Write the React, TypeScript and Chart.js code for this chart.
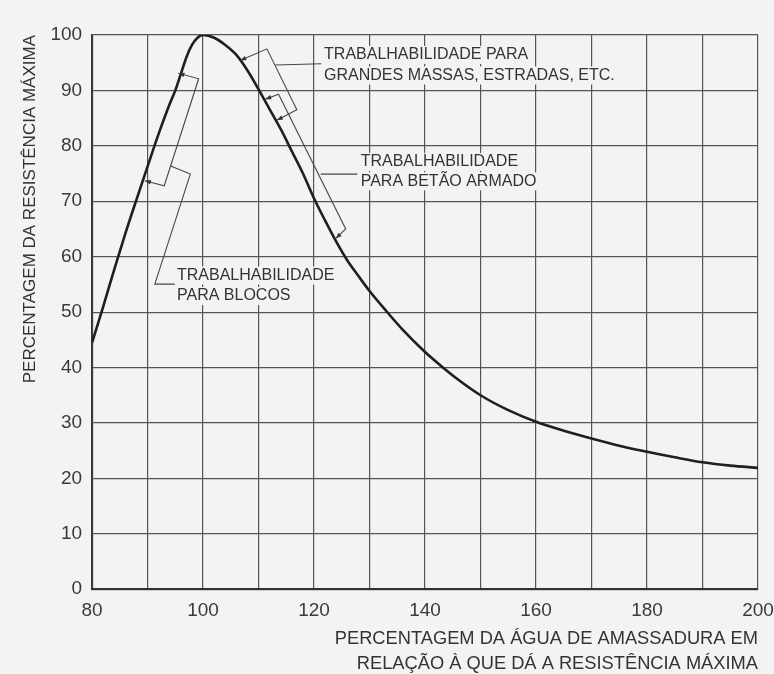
import { useEffect, useRef } from 'react';
import { Chart, registerables } from 'chart.js';

Chart.register(...registerables);

// Percentage of mixing water relative to that giving maximum strength
const waterPct = [
  80, 82, 84, 86, 88, 90, 92, 94, 95, 96, 97, 98, 99, 100,
  102, 104, 106, 108, 110, 112, 114, 116, 118, 120, 122, 124, 126, 128, 130,
  133, 136, 140, 143, 146, 150, 155, 160, 165, 170, 175, 180, 185, 190, 195, 200,
];
// Percentage of maximum strength
const strengthPct = [
  44.5, 51, 57.7, 64.2, 70.3, 76.3, 82.2, 87.6, 90, 93, 96, 98.2, 99.5, 100,
  99.5, 98.2, 96.4, 93.6, 90.2, 86.6, 83, 79, 75, 70.5, 66.5, 62.7, 59.3, 56.5, 53.8,
  50.2, 46.8, 42.8, 40.2, 37.8, 35, 32.3, 30.2, 28.6, 27.2, 25.9, 24.8, 23.8, 22.9, 22.3, 21.9,
];

const xTickLabels = ['80', '100', '120', '140', '160', '180', '200'];
const yTitle = 'PERCENTAGEM DA RESISTÊNCIA MÁXIMA';
const xTitle = ['PERCENTAGEM DA ÁGUA DE AMASSADURA EM', 'RELAÇÃO À QUE DÁ A RESISTÊNCIA MÁXIMA'];

// Workability brackets (data coordinates): curve point, corner, corner, curve point
const bracketBlocos = [[95.55, 93.1], [99.2, 92.1], [93.0, 72.8], [89.5, 73.7]];
const leaderBlocos = [[94.05, 76.4], [97.7, 74.9], [91.3, 55.05], [94.9, 55.05]];
const textBlocos = ['TRABALHABILIDADE', 'PARA BLOCOS'];
const textBlocosAt = [[95.3, 56.6], [95.3, 52.9]];

const bracketMassas = [[106.7, 95.4], [111.5, 97.5], [116.9, 86.5], [113.3, 84.6]];
const leaderMassas = [[113.0, 94.6], [121.3, 94.8]];
const textMassas = ['TRABALHABILIDADE PARA', 'GRANDES MASSAS, ESTRADAS, ETC.'];
const textMassasAt = [[121.8, 96.4], [121.8, 92.7]];

const bracketArmado = [[111.2, 88.4], [113.6, 89.3], [125.7, 65.0], [123.9, 63.3]];
const leaderArmado = [[121.2, 74.9], [127.8, 74.9]];
const textArmado = ['TRABALHABILIDADE', 'PARA BETÃO ARMADO'];
const textArmadoAt = [[128.4, 77.1], [128.4, 73.6]];

const BG = '#f1f4f1';
const INK = '#333333';
const FONT = '"Liberation Sans", Arial, sans-serif';

const annotationPlugin = {
  id: 'workabilityNotes',
  beforeDraw(chart: any) {
    const { ctx, width, height } = chart;
    ctx.save();
    ctx.fillStyle = BG;
    ctx.fillRect(0, 0, width, height);
    ctx.restore();
  },
  afterDatasetsDraw(chart: any) {
    const { ctx } = chart;
    const xs = chart.scales.x;
    const ys = chart.scales.y;
    const P = (p: number[]) => [xs.getPixelForValue(p[0]), ys.getPixelForValue(p[1])];
    const poly = (pts: number[][]) => {
      ctx.beginPath();
      pts.forEach((p, i) => {
        const [px, py] = P(p);
        if (i) ctx.lineTo(px, py); else ctx.moveTo(px, py);
      });
      ctx.stroke();
    };
    const arrow = (from: number[], to: number[]) => {
      const [x0, y0] = P(from);
      const [x1, y1] = P(to);
      const a = Math.atan2(y1 - y0, x1 - x0);
      const L = 6, W = 2.2;
      ctx.beginPath();
      ctx.moveTo(x1, y1);
      ctx.lineTo(x1 - L * Math.cos(a) + W * Math.sin(a), y1 - L * Math.sin(a) - W * Math.cos(a));
      ctx.lineTo(x1 - L * Math.cos(a) - W * Math.sin(a), y1 - L * Math.sin(a) + W * Math.cos(a));
      ctx.closePath();
      ctx.fill();
    };
    const texts = (lines: string[], at: number[][]) => {
      ctx.font = '16px ' + FONT;
      ctx.textBaseline = 'middle';
      ctx.textAlign = 'left';
      lines.forEach((t, i) => {
        const [px, py] = P(at[i]);
        const w = ctx.measureText(t).width;
        ctx.fillStyle = BG;
        ctx.fillRect(px - 2, py - 9, w + 4, 18);
        ctx.fillStyle = INK;
        ctx.fillText(t, px, py);
      });
    };
    ctx.save();
    ctx.strokeStyle = '#474747';
    ctx.fillStyle = '#333';
    ctx.lineWidth = 1.1;
    for (const b of [bracketBlocos, bracketMassas, bracketArmado]) {
      poly(b);
      arrow(b[1], b[0]);
      arrow(b[2], b[3]);
    }
    for (const l of [leaderBlocos, leaderMassas, leaderArmado]) {
      poly(l);
    }
    texts(textBlocos, textBlocosAt);
    texts(textMassas, textMassasAt);
    texts(textArmado, textArmadoAt);
    ctx.restore();
  },
};

export default function App() {
  const ref = useRef<HTMLCanvasElement | null>(null);
  useEffect(() => {
    if (!ref.current) return;
    const chart = new Chart(ref.current, {
      type: 'line',
      data: {
        datasets: [
          {
            data: waterPct.map((x, i) => ({ x, y: strengthPct[i] })),
            borderColor: '#1f1f1f',
            borderWidth: 2.6,
            pointRadius: 0,
            fill: false,
            cubicInterpolationMode: 'monotone',
          },
        ],
      },
      options: {
        responsive: false,
        animation: false,
        layout: { padding: { top: 35, right: 16, left: 12, bottom: 0 } },
        plugins: { legend: { display: false }, tooltip: { enabled: false } },
        scales: {
          x: {
            type: 'linear',
            min: 80,
            max: 200,
            afterFit: (s: any) => {
              s.paddingRight = 0;
              s.paddingLeft = 0;
            },
            ticks: {
              stepSize: 10,
              autoSkip: false,
              maxRotation: 0,
              padding: 10,
              color: '#3a3a3a',
              font: { family: FONT, size: 19 },
              callback: (v: any) => (xTickLabels.includes(String(v)) ? String(v) : ''),
            },
            grid: { color: '#555', lineWidth: 1.2, drawTicks: false },
            border: { color: '#333', width: 2 },
            title: {
              display: true,
              text: xTitle,
              align: 'end',
              color: INK,
              font: { family: FONT, size: 18.3, lineHeight: 1.366 },
              padding: { top: -6, bottom: -2 },
            },
          },
          y: {
            min: 0,
            max: 100,
            ticks: {
              stepSize: 10,
              padding: 10,
              color: '#3a3a3a',
              font: { family: FONT, size: 19 },
            },
            grid: { color: '#555', lineWidth: 1.2, drawTicks: false },
            border: { color: '#333', width: 1.6 },
            title: {
              display: true,
              text: yTitle,
              align: 'end',
              color: INK,
              font: { family: FONT, size: 17 },
              padding: { top: 8, bottom: 0 },
            },
          },
        },
      },
      plugins: [annotationPlugin],
    } as any);
    return () => chart.destroy();
  }, []);
  return (
    <div style={{ position: 'absolute', left: 0, top: 0, width: 774, height: 674 }}>
      <canvas ref={ref} width={774} height={674} style={{ display: 'block' }} />
    </div>
  );
}
